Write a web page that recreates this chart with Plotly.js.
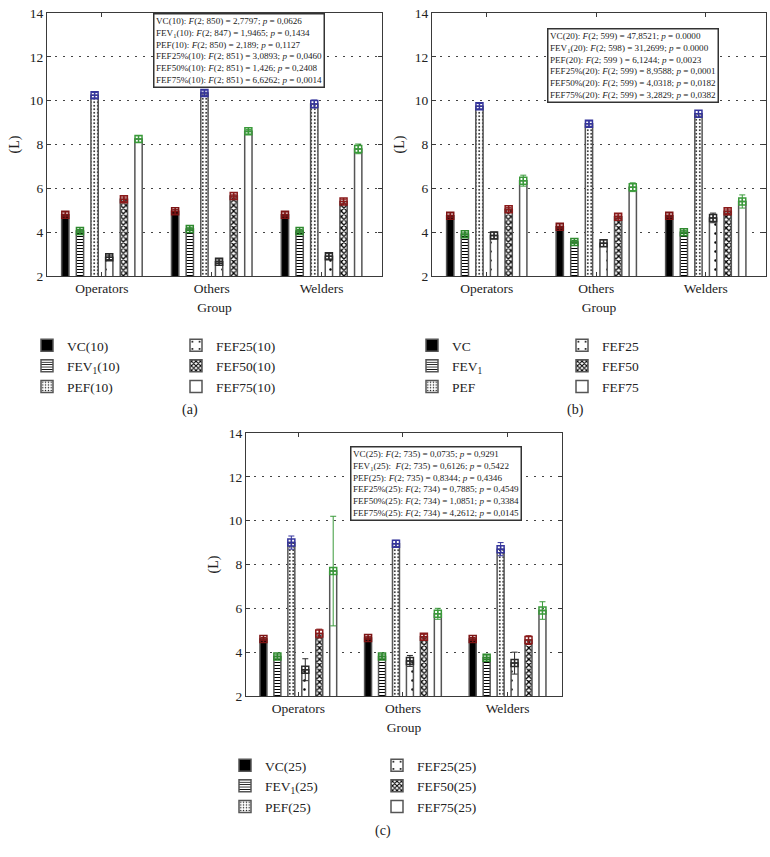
<!DOCTYPE html>
<html><head><meta charset="utf-8">
<script src="https://cdn.plot.ly/plotly-3.0.1.min.js"></script>
<style>html,body{margin:0;padding:0;background:#fff}#chart{width:770px;height:857px}</style>
</head><body><div id="chart"></div>
<script>
// ---------------- DATA ----------------
const groups = ['Operators', 'Others', 'Welders'];
const seriesKeys = ['VC', 'FEV1', 'PEF', 'FEF25', 'FEF50', 'FEF75'];

const namesA = ['VC(10)', 'FEV<sub>1</sub>(10)', 'PEF(10)', 'FEF25(10)', 'FEF50(10)', 'FEF75(10)'];
const namesB = ['VC', 'FEV<sub>1</sub>', 'PEF', 'FEF25', 'FEF50', 'FEF75'];
const namesC = ['VC(25)', 'FEV<sub>1</sub>(25)', 'PEF(25)', 'FEF25(25)', 'FEF50(25)', 'FEF75(25)'];

// rows: VC, FEV1, PEF, FEF25, FEF50, FEF75 ; columns: Operators, Others, Welders
const meansA = [[4.8, 4.95, 4.8], [4.05, 4.15, 4.05], [10.25, 10.35, 9.85], [2.85, 2.65, 2.9], [5.5, 5.65, 5.4], [8.25, 8.6, 7.8]];
const errsA  = [[0.08, 0.08, 0.08], [0.07, 0.07, 0.07], [0.12, 0.1, 0.18], [0.1, 0.08, 0.12], [0.1, 0.08, 0.1], [0.15, 0.08, 0.22]];

const meansB = [[4.75, 4.25, 4.75], [3.9, 3.55, 4.0], [9.75, 8.95, 9.4], [3.85, 3.5, 4.65], [5.05, 4.7, 4.95], [6.35, 6.05, 5.4]];
const errsB  = [[0.08, 0.08, 0.08], [0.07, 0.07, 0.07], [0.12, 0.12, 0.15], [0.15, 0.15, 0.22], [0.08, 0.08, 0.1], [0.25, 0.2, 0.3]];

const meansC = [[4.6, 4.65, 4.6], [3.8, 3.8, 3.75], [9.0, 8.95, 8.7], [3.2, 3.6, 3.5], [4.85, 4.7, 4.55], [7.7, 5.75, 5.9]];
const errsC  = [[0.07, 0.07, 0.07], [0.08, 0.08, 0.08], [0.3, 0.15, 0.3], [0.5, 0.25, 0.5], [0.2, 0.1, 0.2], [2.5, 0.25, 0.4]];

const statsA = [
  'VC(10): <i>F</i>(2; 850) = 2,7797; <i>p</i> = 0,0626',
  'FEV<sub>1</sub>(10): <i>F</i>(2; 847) = 1,9465; <i>p</i> = 0,1434',
  'PEF(10): <i>F</i>(2; 850) = 2,189; <i>p</i> = 0,1127',
  'FEF25%(10): <i>F</i>(2; 851) = 3,0893; <i>p</i> = 0,0460',
  'FEF50%(10): <i>F</i>(2; 851) = 1,426; <i>p</i> = 0,2408',
  'FEF75%(10): <i>F</i>(2; 851) = 6,6262; <i>p</i> = 0,0014'
];
const statsB = [
  'VC(20): <i>F</i>(2; 599) = 47,8521; <i>p</i> = 0.0000',
  'FEV<sub>1</sub>(20): <i>F</i>(2; 598) = 31,2699; <i>p</i> = 0.0000',
  'PEF(20): <i>F</i>(2; 599 ) = 6,1244; <i>p</i> = 0,0023',
  'FEF25%(20): <i>F</i>(2; 599) = 8,9588; <i>p</i> = 0,0001',
  'FEF50%(20): <i>F</i>(2; 599) = 4,0318; <i>p</i> = 0,0182',
  'FEF75%(20): <i>F</i>(2; 599) = 3,2829; <i>p</i> = 0,0382'
];
const statsC = [
  'VC(25): <i>F</i>(2; 735) = 0,0735; <i>p</i> = 0,9291',
  'FEV<sub>1</sub>(25):  <i>F</i>(2; 735) = 0,6126; <i>p</i> = 0,5422',
  'PEF(25): <i>F</i>(2; 735) = 0,8344; <i>p</i> = 0,4346',
  'FEF25%(25): <i>F</i>(2; 734) = 0,7885; <i>p</i> = 0,4549',
  'FEF50%(25): <i>F</i>(2; 734) = 1,0851; <i>p</i> = 0,3384',
  'FEF75%(25): <i>F</i>(2; 734) = 4,2612; <i>p</i> = 0,0145'
];
const yTitle = '(L)';
const xTitle = 'Group';
const captions = ['(a)', '(b)', '(c)'];

// ---------------- STYLES ----------------
const W = 770, H = 857;
const px = v => v / W;
const py = v => 1 - v / H;
const FONT = '"Liberation Serif", "Times New Roman", Times, serif';
const outline = '#555555';
const markColors = ['#7d1414', '#2f8a2f', '#34349c', '#2a2a2a', '#8a1a1a', '#3a9a3a'];
const barStyles = [
  {color: '#000000'},
  {color: '#ffffff', pattern: {shape: '-', fgcolor: '#000', bgcolor: '#fff', size: 3, solidity: 0.35}},
  {color: '#ffffff', pattern: {shape: '.', fgcolor: '#000', bgcolor: '#fff', size: 3.5, solidity: 0.2}},
  {color: '#ffffff', pattern: {shape: '.', fgcolor: '#000', bgcolor: '#fff', size: 9, solidity: 0.06}},
  {color: '#ffffff', pattern: {shape: 'x', fgcolor: '#000', bgcolor: '#fff', size: 4, solidity: 0.55}},
  {color: '#ffffff'}
];

const traces = [];
function addPanel(xa, ya, means, errs, names, legCol1, legCol2) {
  seriesKeys.forEach((k, i) => {
    const st = barStyles[i];
    const marker = {color: st.color, line: {color: outline, width: 1.5}};
    if (st.pattern) marker.pattern = st.pattern;
    traces.push({
      type: 'bar', name: names[i], x: groups, y: means[i], xaxis: xa, yaxis: ya,
      marker: marker, legend: i < 3 ? legCol1 : legCol2, hoverinfo: 'skip'
    });
  });
  seriesKeys.forEach((k, i) => {
    traces.push({
      type: 'scatter', mode: 'markers', orientation: 'v', x: groups, y: means[i], xaxis: xa, yaxis: ya,
      marker: {symbol: 'square-cross-open', size: 7, color: markColors[i], line: {width: 1.5, color: markColors[i]}},
      error_y: {type: 'data', array: errs[i], visible: true, color: markColors[i], thickness: 1, width: 3},
      showlegend: false, hoverinfo: 'skip', cliponaxis: false
    });
  });
}
addPanel('x', 'y', meansA, errsA, namesA, 'legend', 'legend2');
addPanel('x2', 'y2', meansB, errsB, namesB, 'legend3', 'legend4');
addPanel('x3', 'y3', meansC, errsC, namesC, 'legend5', 'legend6');

function xAx(l, r, anchor, rng) {
  return {
    domain: [px(l), px(r)], anchor: anchor, type: 'category', range: rng,
    showline: true, mirror: 'ticks', linecolor: '#3a3a3a', linewidth: 1,
    ticks: 'inside', ticklen: 4, tickcolor: '#3a3a3a', showgrid: false, zeroline: false,
    tickfont: {size: 13.5, color: '#222'},
    title: {text: xTitle, standoff: 7, font: {size: 13.5, color: '#222'}}, fixedrange: true
  };
}
function yAx(t, b, anchor) {
  return {
    domain: [py(b), py(t)], anchor: anchor, range: [2, 14], tick0: 2, dtick: 2,
    showline: true, mirror: 'ticks', linecolor: '#3a3a3a', linewidth: 1,
    ticks: 'inside', ticklen: 4, tickcolor: '#3a3a3a',
    showgrid: true, gridcolor: '#444', griddash: '2px,6px', gridwidth: 1, zeroline: false,
    tickfont: {size: 13.5, color: '#222'},
    title: {text: yTitle, standoff: 6, font: {size: 14, color: '#222'}}, fixedrange: true
  };
}
function leg(textX, topY) {
  return {x: px(textX - 40), xanchor: 'left', y: py(topY), yanchor: 'top', orientation: 'v',
    bgcolor: 'rgba(0,0,0,0)', font: {size: 13.5, color: '#222'}, tracegroupgap: 0, itemwidth: 30};
}

const annotations = [];
function statBox(stats, l, t) {
  annotations.push({xref: 'paper', yref: 'paper', x: px(l), xanchor: 'left', y: py(t), yanchor: 'top',
    align: 'left', text: stats.join('<br>'), showarrow: false,
    bordercolor: '#333', borderwidth: 1.5, borderpad: 1.5, bgcolor: '#fff',
    font: {size: 9.1, color: '#222'}});
}
statBox(statsA, 153, 13);
statBox(statsB, 547, 28);
statBox(statsC, 350, 446);

[[190, 410], [575, 410], [383, 831]].forEach((p, i) => {
  annotations.push({xref: 'paper', yref: 'paper', x: px(p[0]), y: py(p[1]), xanchor: 'center', yanchor: 'middle',
    text: captions[i], showarrow: false, font: {size: 14, color: '#222'}});
});

const layout = {
  width: W, height: H, margin: {l: 0, r: 0, t: 0, b: 0, autoexpand: false},
  paper_bgcolor: '#fff', plot_bgcolor: '#fff',
  font: {family: FONT, size: 13.5, color: '#222'},
  barmode: 'group', bargap: 0.2, bargroupgap: 0.5,
  scattermode: 'group', scattergap: 0.2,
  xaxis: xAx(47, 382, 'y', [-0.5, 2.55]), yaxis: yAx(13, 276, 'x'),
  xaxis2: xAx(432, 766, 'y2', [-0.5, 2.55]), yaxis2: yAx(13, 276, 'x2'),
  xaxis3: xAx(246, 562, 'y3', [-0.5, 2.52]), yaxis3: yAx(433, 696, 'x3'),
  legend: leg(67, 330), legend2: leg(216, 330),
  legend3: leg(452, 330), legend4: leg(602, 330),
  legend5: leg(265, 750), legend6: leg(417, 750),
  annotations: annotations,
  showlegend: true
};

Plotly.newPlot('chart', traces, layout, {staticPlot: true, displayModeBar: false});
</script>
</body></html>
